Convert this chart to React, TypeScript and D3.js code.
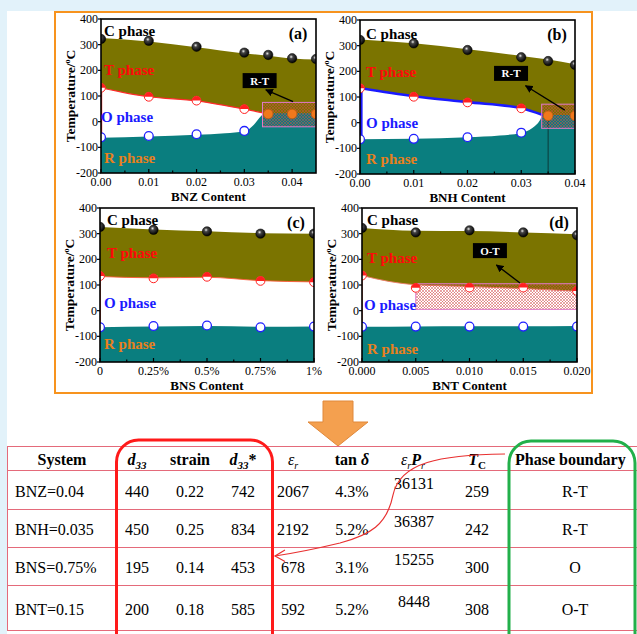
import React from 'react'
import * as d3 from 'd3'

type Pt = [number, number]

const SERIF = '"Liberation Serif", "Times New Roman", Times, serif'
const OLIVE = '#7b7400'
const TEAL = '#0a7e7f'
const PHASE_NAMES = ['C phase', 'T phase', 'O phase', 'R phase']
const PHASE_COLORS = ['#000000', '#ff0a0a', '#1a1aff', '#e8801c']
const TEMP_TICKS = [-200, -100, 0, 100, 200, 300, 400]

// (a) BNZ
const bnzTicks = [0, 0.01, 0.02, 0.03, 0.04]
const bnzX = [0, 0.01, 0.02, 0.03, 0.035, 0.04, 0.045]
const bnzCT = [322, 315, 292, 269, 260, 247, 244]
const bnzLowX = [0, 0.01, 0.02, 0.03]
const bnzTO = [132, 97, 82, 49]
const bnzOR = [-61, -56, -49, -36]
const bnzRtX = [0.035, 0.04, 0.045]
const bnzRT = [30, 30, 30]
const bnzUpper: Pt[] = [[0, 326], [0.01, 312], [0.02, 290], [0.03, 266], [0.035, 257], [0.04, 246], [0.045, 242]]
const bnzMiddle: Pt[] = [[0, 132], [0.01, 97], [0.02, 81], [0.03, 49], [0.0342, 33]]
const bnzLower: Pt[] = [[0, -63], [0.01, -58], [0.02, -51], [0.026, -45], [0.03, -37], [0.032, -12], [0.0335, 22], [0.0342, 33], [0.045, 33]]

// (b) BNH
const bnhTicks = [0, 0.01, 0.02, 0.03, 0.04]
const bnhX = [0, 0.01, 0.02, 0.03, 0.035, 0.04]
const bnhCT = [322, 309, 283, 255, 240, 225]
const bnhLowX = [0, 0.01, 0.02, 0.03]
const bnhTO = [134, 101, 79, 56]
const bnhOR = [-65, -63, -57, -39]
const bnhRtX = [0.035, 0.04]
const bnhRT = [27, 27]
const bnhUpper: Pt[] = [[0, 324], [0.01, 309], [0.02, 286], [0.03, 260], [0.035, 246], [0.04, 228]]
const bnhMiddle: Pt[] = [[0, 135], [0.01, 103], [0.02, 80], [0.03, 56], [0.034, 30]]
const bnhLower: Pt[] = [[0, -65], [0.01, -63], [0.02, -57], [0.026, -50], [0.03, -40], [0.032, -22], [0.0335, 10], [0.034, 30], [0.04, 30]]

// (c) BNS
const bnsTicks = [0, 0.25, 0.5, 0.75, 1]
const bnsLabels = ['0', '0.25%', '0.5%', '0.75%', '1%']
const bnsCT = [326, 315, 309, 300, 300]
const bnsTO = [135, 126, 132, 116, 111]
const bnsOR = [-65, -60, -58, -65, -62]
const bnsUpper: Pt[] = [[0, 326], [0.25, 316], [0.5, 309], [0.75, 302], [1, 300]]
const bnsMiddle: Pt[] = [[0, 133], [0.25, 128], [0.5, 130], [0.75, 117], [1, 112]]
const bnsLower: Pt[] = [[0, -65], [0.25, -62], [0.5, -60], [0.75, -63], [1, -62]]

// (d) BNT
const bntTicks = [0, 0.005, 0.01, 0.015, 0.02]
const bntCT = [322, 305, 313, 305, 294]
const bntTO = [137, 89, 90, 90, 77]
const bntOR = [-63, -62, -62, -62, -62]
const bntUpper: Pt[] = [[0, 322], [0.005, 311], [0.01, 310], [0.015, 305], [0.02, 298]]
const bntMiddle: Pt[] = [[0, 137], [0.0025, 114], [0.005, 101], [0.01, 94], [0.015, 86], [0.02, 76]]
const bntLower: Pt[] = [[0, -63], [0.005, -62], [0.01, -61], [0.015, -61], [0.02, -60]]

// table
const systems = ['BNZ=0.04', 'BNH=0.035', 'BNS=0.75%', 'BNT=0.15']
const d33 = ['440', '450', '195', '200']
const strain = ['0.22', '0.25', '0.14', '0.18']
const d33star = ['742', '834', '453', '585']
const epsR = ['2067', '2192', '678', '592']
const tanDelta = ['4.3%', '5.2%', '3.1%', '5.2%']
const epsPr = ['36131', '36387', '15255', '8448']
const curieT = ['259', '242', '300', '308']
const boundary = ['R-T', 'R-T', 'O', 'O-T']

const pts = (xs: number[], ts: number[]): Pt[] => xs.map((v, i) => [v, ts[i]])

const panels = [
  {
    id: 'a', tag: '(a)', xTitle: 'BNZ Content',
    box: { left: 101, top: 19, width: 215, height: 154 },
    xDomain: [0, 0.045], xTicks: bnzTicks, xLabels: bnzTicks.map(d3.format('.2f')),
    upper: bnzUpper, middle: bnzMiddle, lower: bnzLower,
    edge: { color: '#ff2a2a', width: 1.2 },
    black: pts(bnzX, bnzCT), red: pts(bnzLowX, bnzTO), blue: pts(bnzLowX, bnzOR), orange: pts(bnzRtX, bnzRT),
    hatch: { x0: 0.0338, x1: 0.045, t0: -20, t1: 75 },
    callout: { text: 'R-T', at: [0.0332, 160], from: [0.0402, 78], to: [0.0345, 124] },
    labelT: [354, 201, 18, -141], labelDx: [3, 3, 0, 3],
  },
  {
    id: 'b', tag: '(b)', xTitle: 'BNH Content',
    box: { left: 360, top: 20, width: 215, height: 154 },
    xDomain: [0, 0.04], xTicks: bnhTicks, xLabels: bnhTicks.map(d3.format('.2f')),
    upper: bnhUpper, middle: bnhMiddle, lower: bnhLower,
    edge: { color: '#1a1aff', width: 2.6 },
    black: pts(bnhX, bnhCT), red: pts(bnhLowX, bnhTO), blue: pts(bnhLowX, bnhOR), orange: pts(bnhRtX, bnhRT),
    hatch: { x0: 0.0338, x1: 0.04, t0: -22, t1: 72 },
    dropLine: { x: 0.035, t: 27 },
    callout: { text: 'R-T', at: [0.0281, 192], from: [0.0381, 49], to: [0.0308, 144] },
    labelT: [345, 199, 0, -143], labelDx: [6, 6, 6, 6],
  },
  {
    id: 'c', tag: '(c)', xTitle: 'BNS Content',
    box: { left: 100, top: 208, width: 214, height: 154 },
    xDomain: [0, 1], xTicks: bnsTicks, xLabels: bnsLabels,
    upper: bnsUpper, middle: bnsMiddle, lower: bnsLower,
    edge: { color: '#ff5a3a', width: 0.9 },
    black: pts(bnsTicks, bnsCT), red: pts(bnsTicks, bnsTO), blue: pts(bnsTicks, bnsOR), orange: [],
    labelT: [354, 224, 29, -128], labelDx: [7, 7, 4, 4],
  },
  {
    id: 'd', tag: '(d)', xTitle: 'BNT Content',
    box: { left: 362, top: 208, width: 215, height: 154 },
    xDomain: [0, 0.02], xTicks: bntTicks, xLabels: bntTicks.map(d3.format('.3f')),
    upper: bntUpper, middle: bntMiddle, lower: bntLower,
    edge: { color: '#f07a6a', width: 0.9 },
    black: pts(bntTicks, bntCT), red: pts(bntTicks, bntTO), blue: pts(bntTicks, bntOR), orange: [],
    hatch: { x0: 0.005, x1: 0.02, t0: 5, t1: 105 },
    callout: { text: 'O-T', at: [0.0119, 234], from: [0.0147, 108], to: [0.0125, 178] },
    labelT: [352, 206, 23, -148], labelDx: [5, 5, 2, 5],
  },
]

function Panel({ p }: { p: any }) {
  const { left, top, width, height } = p.box
  const bottom = top + height
  const right = left + width
  const x = d3.scaleLinear().domain(p.xDomain).range([left, right])
  const y = d3.scaleLinear().domain([-200, 400]).range([bottom, top])
  const area = d3.area<Pt>().x(d => x(d[0])).y0(bottom).y1(d => y(d[1])).curve(d3.curveMonotoneX)
  const line = d3.line<Pt>().x(d => x(d[0])).y(d => y(d[1])).curve(d3.curveMonotoneX)
  const clip = `clip-${p.id}`
  const minor = p.xTicks.slice(0, -1).map((t: number, i: number) => (t + p.xTicks[i + 1]) / 2)
  const r = 4.4

  return (
    <g>
      <defs>
        <clipPath id={clip}>
          <rect x={left} y={top} width={width} height={height} />
        </clipPath>
      </defs>
      <g clipPath={`url(#${clip})`}>
        <rect x={left} y={top} width={width} height={height} fill="#fff" />
        <path d={area(p.upper) || ''} fill={OLIVE} />
        <path d={area(p.middle) || ''} fill="#fff" />
        <path d={area(p.lower) || ''} fill={TEAL} />
        <path d={line(p.middle) || ''} fill="none" stroke={p.edge.color} strokeWidth={p.edge.width} />
        <line x1={left} x2={left} y1={y(p.middle[0][1])} y2={y(p.lower[0][1])}
          stroke={p.edge.color} strokeWidth={p.edge.width * 2} />
        {p.dropLine && (
          <line x1={x(p.dropLine.x)} x2={x(p.dropLine.x)} y1={y(p.dropLine.t)} y2={bottom}
            stroke="#0c3a3a" strokeWidth={1} />
        )}
        {p.hatch && (
          <rect x={x(p.hatch.x0)} y={y(p.hatch.t1)} width={x(p.hatch.x1) - x(p.hatch.x0)}
            height={y(p.hatch.t0) - y(p.hatch.t1)} fill="url(#hatch)" stroke="#e07ac8" strokeWidth={1} />
        )}
        {p.black.map((d: Pt, i: number) => (
          <circle key={'k' + i} cx={x(d[0])} cy={y(d[1])} r={r + 0.3} fill="url(#sphere)" stroke="#000" strokeWidth={0.5} />
        ))}
        {p.red.map((d: Pt, i: number) => (
          <g key={'r' + i}>
            <circle cx={x(d[0])} cy={y(d[1])} r={r} fill="#fff" stroke="#ff2020" strokeWidth={1} />
            <path d={`M${x(d[0]) - r},${y(d[1])} A${r},${r} 0 0 1 ${x(d[0]) + r},${y(d[1])} Z`} fill="#ff2020" />
          </g>
        ))}
        {p.blue.map((d: Pt, i: number) => (
          <circle key={'b' + i} cx={x(d[0])} cy={y(d[1])} r={r} fill="#fff" stroke="#2020ff" strokeWidth={1.3} />
        ))}
        {p.orange.map((d: Pt, i: number) => (
          <circle key={'o' + i} cx={x(d[0])} cy={y(d[1])} r={r + 0.4} fill="#f0781c" stroke="#c05a10" strokeWidth={0.8} />
        ))}
      </g>

      <rect x={left} y={top} width={width} height={height} fill="none" stroke="#000" strokeWidth={1.6} />

      {TEMP_TICKS.map(t => (
        <g key={t}>
          <line x1={left - 3} x2={left} y1={y(t)} y2={y(t)} stroke="#000" strokeWidth={1.2} />
          <text x={left - 3} y={y(t) + 4} fontSize={12} textAnchor="end">{t}</text>
        </g>
      ))}
      {p.xTicks.map((t: number, i: number) => (
        <g key={t}>
          <line x1={x(t)} x2={x(t)} y1={bottom} y2={bottom - 4} stroke="#000" strokeWidth={1.2} />
          <text x={x(t)} y={bottom + 13} fontSize={12} textAnchor="middle">{p.xLabels[i]}</text>
        </g>
      ))}
      {minor.map((t: number) => (
        <line key={t} x1={x(t)} x2={x(t)} y1={bottom} y2={bottom - 2.5} stroke="#000" strokeWidth={1.2} />
      ))}

      <text x={left + width / 2} y={bottom + 28} fontSize={13} fontWeight="bold" textAnchor="middle">
        {p.xTitle}
      </text>
      <g transform={`translate(${left - 30},${top + height / 2}) rotate(-90)`}>
        <text y={4} fontSize={13.5} fontWeight="bold" textAnchor="middle">
          Temperature/<tspan dy={-5} fontSize={8}>o</tspan><tspan dy={5}>C</tspan>
        </text>
      </g>
      <text x={right - 18} y={top + 20} fontSize={16} fontWeight="bold" textAnchor="middle">{p.tag}</text>

      {PHASE_NAMES.map((name, i) => (
        <text key={name} x={left + p.labelDx[i]} y={y(p.labelT[i]) + 5} fontSize={15}
          fontWeight="bold" fill={PHASE_COLORS[i]}>
          {name}
        </text>
      ))}

      {p.callout && (
        <g>
          <line x1={x(p.callout.from[0])} y1={y(p.callout.from[1])} x2={x(p.callout.to[0])} y2={y(p.callout.to[1])}
            stroke="#000" strokeWidth={1.3} markerEnd="url(#arrowHead)" />
          <rect x={x(p.callout.at[0]) - 17} y={y(p.callout.at[1]) - 7.5} width={34} height={15} fill="#000" />
          <text x={x(p.callout.at[0])} y={y(p.callout.at[1]) + 4} fontSize={11} fontWeight="bold"
            fill="#fff" textAnchor="middle">
            {p.callout.text}
          </text>
        </g>
      )}
    </g>
  )
}

function Table() {
  const rowLines = [446.5, 470.5, 509.5, 547.5, 585.5, 630.5]
  const base = systems.map((_, i) => (rowLines[i + 1] + rowLines[i + 2]) / 2 + 6.5)
  const cols = [
    { x: 137, v: d33 },
    { x: 190, v: strain },
    { x: 243, v: d33star },
    { x: 293, v: epsR },
    { x: 352, v: tanDelta },
    { x: 477, v: curieT },
    { x: 575, v: boundary },
  ]
  const hy = 465
  return (
    <g fontSize={16}>
      {rowLines.map(ly => (
        <line key={ly} x1={7} x2={637} y1={ly} y2={ly} stroke="#e46a7a" strokeWidth={1} />
      ))}
      <line x1={7.5} x2={7.5} y1={rowLines[0]} y2={rowLines[5]} stroke="#e46a7a" strokeWidth={1} />

      <g fontWeight="bold" textAnchor="middle">
        <text x={62} y={hy}>System</text>
        <text x={137} y={hy} fontStyle="italic">d<tspan dy={4} fontSize={11}>33</tspan></text>
        <text x={190} y={hy}>strain</text>
        <text x={243} y={hy} fontStyle="italic">d<tspan dy={4} fontSize={11}>33</tspan><tspan dy={-4} fontStyle="normal">*</tspan></text>
        <text x={293} y={hy} fontStyle="italic" fontWeight="normal">ε<tspan dy={4} fontSize={10}>r</tspan></text>
        <text x={352} y={hy}>tan <tspan fontStyle="italic">δ</tspan></text>
        <text x={413} y={hy} fontStyle="italic"><tspan fontWeight="normal">ε</tspan><tspan dy={4} fontSize={10} fontWeight="normal">r</tspan><tspan dy={-4}>P</tspan><tspan dy={4} fontSize={10} fontWeight="normal">r</tspan></text>
        <text x={477} y={hy} fontStyle="italic">T<tspan dy={4} fontSize={11} fontStyle="normal">C</tspan></text>
        <text x={515} y={hy} textAnchor="start">Phase boundary</text>
      </g>

      {systems.map((s, i) => (
        <text key={s} x={15} y={base[i]}>{s}</text>
      ))}
      {cols.map(c =>
        c.v.map((v, i) => (
          <text key={c.x + '-' + i} x={c.x} y={base[i]} textAnchor="middle">{v}</text>
        ))
      )}
      {epsPr.map((v, i) => (
        <text key={'pr' + i} x={414} y={base[i] - 8} textAnchor="middle">{v}</text>
      ))}

      <rect x={116.5} y={440} width={156} height={240} rx={22} fill="none" stroke="#ff1a1a" strokeWidth={3} />
      <rect x={509} y={441} width={126} height={240} rx={22} fill="none" stroke="#22b04a" strokeWidth={3} />

      <path d="M 505 454 C 440 455, 400 462, 393 495 C 387 525, 370 535, 340 543 C 315 549, 295 553, 275 556"
        fill="none" stroke="#e83030" strokeWidth={1.2} />
      <path d="M 285 550 L 275 556 L 285 561.5" fill="none" stroke="#e83030" strokeWidth={1.2} />
    </g>
  )
}

export default function App() {
  return (
    <svg width={637} height={634} style={{ position: 'absolute', left: 0, top: 0, fontFamily: SERIF }}>
      <defs>
        <radialGradient id="sphere" cx="0.4" cy="0.35" r="0.65">
          <stop offset="0" stopColor="#eeeeee" />
          <stop offset="0.3" stopColor="#444" />
          <stop offset="1" stopColor="#000" />
        </radialGradient>
        <pattern id="hatch" width={3} height={3} patternUnits="userSpaceOnUse">
          <path d="M0,0 L3,3 M3,0 L0,3" stroke="#d04848" strokeWidth={0.5} />
        </pattern>
        <marker id="arrowHead" viewBox="0 0 10 10" refX={9} refY={5} markerWidth={6} markerHeight={6} orient="auto">
          <path d="M0,0 L10,5 L0,10 z" fill="#000" />
        </marker>
      </defs>

      <rect width={637} height={634} fill="#e2f2fa" />
      <rect x={7} y={11} width={630} height={623} fill="#fff" />
      <rect x={55} y={12} width={537} height={381} fill="none" stroke="#f7931e" strokeWidth={2} />

      {panels.map(p => (
        <Panel key={p.id} p={p} />
      ))}

      <polygon points="323,401 353,401 353,422 368,422 338,446 308,422 323,422"
        fill="#f4a04f" stroke="#e0883a" strokeWidth={1} />

      <Table />
    </svg>
  )
}
